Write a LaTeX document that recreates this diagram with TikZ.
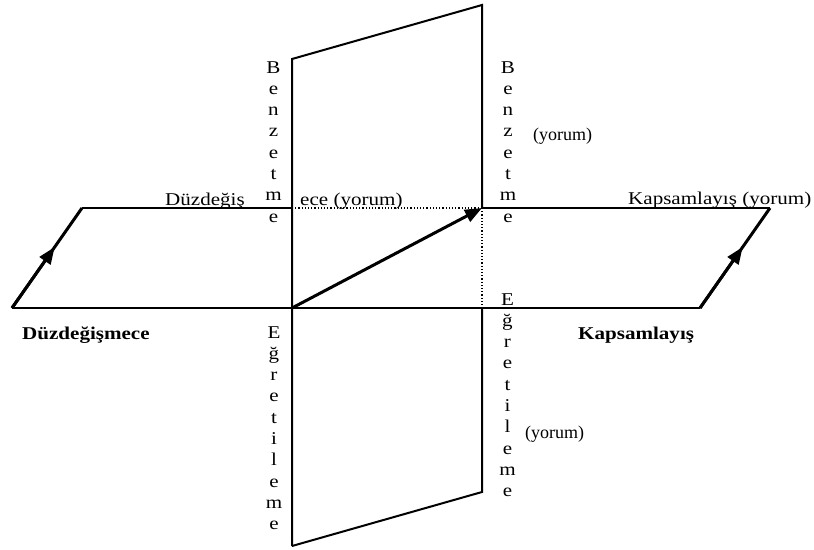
\documentclass[tikz,border=0pt]{standalone}
\usepackage{fontspec}
\setmainfont{Liberation Serif}[FakeStretch=1.17]
\newfontfamily\plainfont{Liberation Serif}
\usetikzlibrary{arrows.meta,calc}
\tikzset{
  plane/.style={line width=2pt, line join=miter},
  slant/.style={line width=3pt},
  guide/.style={line width=1.2pt, dotted},
  vecarrow/.style={line width=3pt, -{Triangle[length=17pt,width=13pt]}},
  lbl/.style={inner sep=0pt, anchor=base west, font=\fontsize{18}{21}\selectfont},
  boldlbl/.style={inner sep=0pt, anchor=base west, font=\fontsize{18}{21}\selectfont\bfseries},
  aside/.style={inner sep=0pt, anchor=base west, font=\plainfont\fontsize{18}{21}\selectfont},
  letter/.style={inner sep=0pt, anchor=base, font=\fontsize{18}{21}\selectfont},
}
\begin{document}
\begin{tikzpicture}[x=1pt,y=-1pt]
\useasboundingbox (0,0) rectangle (814,549);
% corners of the horizontal plane
\coordinate (ll) at (12,308);
\coordinate (ul) at (82,208);
\coordinate (ur) at (770,208);
\coordinate (lr) at (700,308);
% vertical plane
\coordinate (o) at (292,308);
\coordinate (ot) at (292,208);
\coordinate (p) at (482,208);
\coordinate (pb) at (482,308);
\coordinate (tl) at (292,59);
\coordinate (tr) at (482,5);
\coordinate (bl) at (292,546);
\coordinate (br) at (482,492);
\coordinate (lm) at ($(ll)!0.61!(ul)$);
\coordinate (rm) at ($(lr)!0.61!(ur)$);

\draw[plane] (ll) -- (lr);
\draw[plane] (ul) -- (ot);
\draw[plane] (p) -- (ur);
\draw[guide] (ot) -- (p);
\draw[guide] (p) -- (pb);
\draw[plane] (bl) -- (tl) -- (tr) -- (p);
\draw[plane] (pb) -- (br) -- (bl);
\draw[slant] (ll) -- (ul);
\draw[slant] (lr) -- (ur);
\draw[vecarrow] (ll) -- (lm);
\draw[vecarrow] (lr) -- (rm);
\draw[vecarrow] (o) -- (p);

% vertical words
\foreach \ch [count=\i] in {B,e,n,z,e,t,m,e} {
  \node[letter] (bzl\i) at (273.5, 73+21.3*\i-21.3) {\ch};
  \node[letter] (bzr\i) at (508, 73+21.3*\i-21.3) {\ch};
}
\foreach \ch [count=\i] in {E,ğ,r,e,t,i,l,e,m,e} {
  \node[letter] (egl\i) at (274, 338+21.3*\i-21.3) {\ch};
  \node[letter] (egr\i) at (507.5, 305+21.3*\i-21.3) {\ch};
}

% horizontal labels
\node[lbl] (duz) at (165,205) {Düzdeğiş};
\node[lbl] (ece) at (300,205) {ece (yorum)};
\node[lbl] (kapy) at (628,204) {Kapsamlayış (yorum)};
\node[boldlbl] (duzb) at (22,339) {Düzdeğişmece};
\node[boldlbl] (kapb) at (578,339) {Kapsamlayış};
\node[aside] (yor1) at (533,140) {(yorum)};
\node[aside] (yor2) at (525,438) {(yorum)};
\end{tikzpicture}
\end{document}
